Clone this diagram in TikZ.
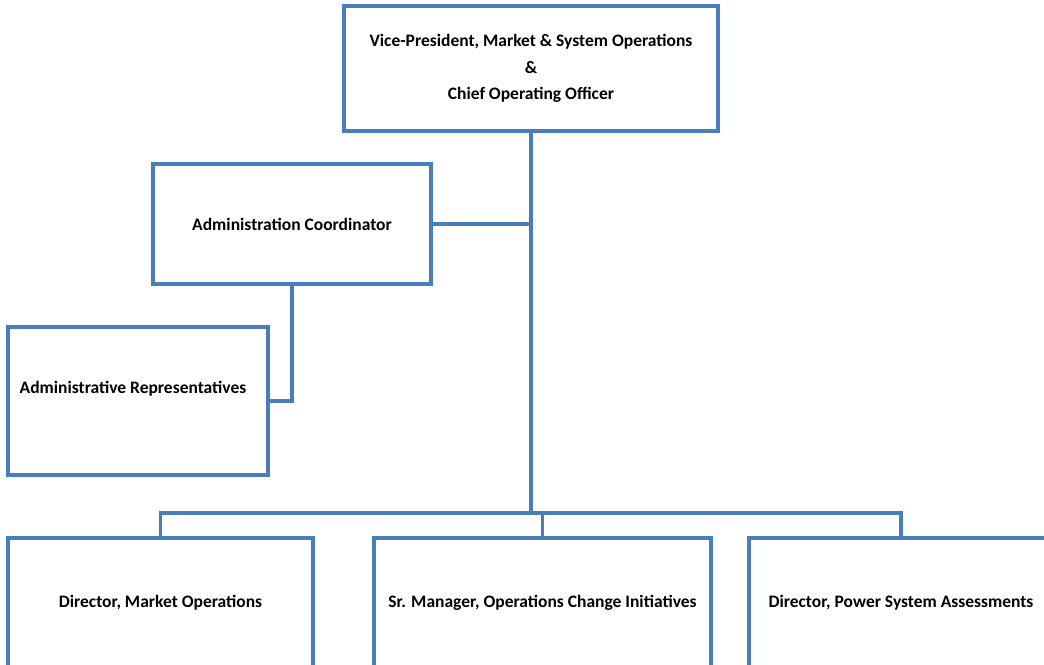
\documentclass[tikz,border=0pt]{standalone}
\usepackage{fontspec}
\setmainfont{Carlito}
\definecolor{boxblue}{HTML}{4A7EBB}
\begin{document}
\begin{tikzpicture}[x=1pt,y=-1pt,
  lbl/.style={font=\fontsize{17.5}{26.5}\selectfont\bfseries, align=center, inner sep=0pt},
  box/.style={draw=boxblue, line width=3.2pt, fill=white, rectangle, inner sep=0pt, lbl},
  link/.style={draw=boxblue, line width=3.2pt}]
\useasboundingbox (0,0) rectangle (1044,664);
\clip (0,0) rectangle (1044,664);
\node[box, minimum width=374pt, minimum height=125pt] (vp) at (531,68.5)
  {Vice-President, Market \& System Operations\\\&\\Chief Operating Officer};
\node[box, minimum width=278pt, minimum height=120pt] (ac) at (292,224)
  {Administration Coordinator};
\node[box, minimum width=260pt, minimum height=148pt] (ar) at (138,401) {};
\node[lbl] (art) at (133,389) {Administrative Representatives};
\node[box, minimum width=305pt, minimum height=130pt] (d1) at (160.5,603)
  {Director, Market Operations};
\node[box, minimum width=337pt, minimum height=130pt] (d2) at (542.5,603)
  {Sr. Manager, Operations Change Initiatives};
\node[box, minimum width=304pt, minimum height=130pt] (d3) at (901,603)
  {Director, Power System Assessments};
\coordinate (bus) at (531,513);
\draw[link] (vp.south) -- (bus);
\draw[link] (ac.east) -- (ac.east -| vp.south);
\draw[link] (ac.south) |- (ar.east);
\draw[link] (d1.north) |- (bus) -| (d3.north);
\draw[link] (d2.north) -- (d2.north |- bus);
\end{tikzpicture}
\end{document}
